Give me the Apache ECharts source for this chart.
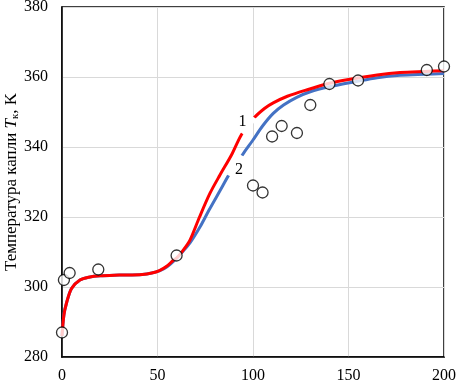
<!DOCTYPE html>
<html>
<head>
<meta charset="utf-8">
<script src="https://cdn.jsdelivr.net/npm/echarts@6/dist/echarts.min.js"></script>
<style>
  html, body { margin: 0; padding: 0; background: #fff; }
  #chart { width: 458px; height: 384px; }
</style>
</head>
<body>
<div id="chart"></div>
<script>
// curve 1 (red)
const curve1 = [
  [0, 286], [1, 292], [2.4, 295.5], [5, 299.6], [9.4, 302], [14, 302.8], [20, 303.2],
  [30, 303.4], [42, 303.6], [47, 304], [51, 304.7], [55, 306], [58, 307.5], [60, 308.3],
  [63, 310.2], [67, 313.4], [72, 320], [77.5, 326.8], [82.7, 332], [88.8, 337.8],
  [94, 343.6], [100, 348], [106, 351], [110.6, 352.6], [118, 354.5], [128, 356.3],
  [140, 358.2], [150, 359.3], [165, 360.6], [177, 361.3], [190, 361.6], [200, 361.8]
];
// curve 2 (blue)
const curve2 = [
  [0, 286], [1, 292], [2.4, 295.5], [5, 299.6], [9.4, 302], [14, 302.8], [20, 303.2],
  [30, 303.4], [42, 303.6], [47, 304], [51, 304.6], [55, 305.8], [60, 308.2],
  [63, 310], [67, 312.6], [72.3, 317.2], [77, 322], [82.7, 327.5], [88, 332.6],
  [95, 338.2], [100, 342], [105, 346], [110.6, 349.6], [116, 352], [122.9, 354.2],
  [130, 355.8], [140, 357.2], [154, 358.7], [165, 359.8], [177, 360.5], [190, 360.8], [200, 361]
];
// experiment
const points = [
  [0, 287], [1, 302], [4, 304], [19, 305], [60, 309], [100, 329], [105, 327],
  [110, 343], [115, 346], [123, 344], [130, 352], [140, 358], [155, 359], [191, 362], [200, 363]
];
const xTicks = { min: 0, max: 200, step: 50 };
const yTicks = { min: 280, max: 380, step: 20 };

const chart = echarts.init(document.getElementById('chart'));
const font = 'Liberation Serif';

function lineLabel(text, coord, rot, len, dx, dy) {
  return {
    coord: coord,
    symbol: 'rect',
    symbolSize: [len, 8],
    symbolRotate: rot,
    itemStyle: { color: '#fff' },
    label: {
      show: true, formatter: text, color: '#000', fontFamily: font, fontSize: 16,
      position: 'inside', offset: [dx, dy]
    }
  };
}

chart.setOption({
  animation: false,
  grid: {
    left: 62, top: 7, right: 14, bottom: 27, outerBoundsMode: 'none', containLabel: false,
    show: true, borderColor: '#000', borderWidth: 1.5, backgroundColor: 'transparent'
  },
  xAxis: {
    type: 'value', min: xTicks.min, max: xTicks.max, interval: xTicks.step,
    axisLine: { lineStyle: { color: '#000', width: 1.5 } },
    axisTick: { show: false },
    axisLabel: { color: '#000', fontFamily: font, fontSize: 16, margin: 11 },
    splitLine: { lineStyle: { color: '#d9d9d9', width: 1 } }
  },
  yAxis: {
    type: 'value', min: yTicks.min, max: yTicks.max, interval: yTicks.step,
    name: 'Температура капли {i|T}{s|к}, K',
    nameLocation: 'middle', nameGap: 41, nameMoveOverlap: false,
    nameTextStyle: {
      color: '#000', fontFamily: font, fontSize: 17,
      rich: {
        i: { fontStyle: 'italic', fontFamily: font, fontSize: 17, color: '#000' },
        s: { fontFamily: font, fontSize: 11, color: '#000', padding: [7, 0, 0, 0] }
      }
    },
    axisLine: { lineStyle: { color: '#000', width: 1.5 } },
    axisTick: { show: false },
    axisLabel: { color: '#000', fontFamily: font, fontSize: 16, margin: 14 },
    splitLine: { lineStyle: { color: '#d9d9d9', width: 1 } }
  },
  series: [
    {
      type: 'line', data: curve2, showSymbol: false, smooth: 0.3,
      lineStyle: { color: '#4472c4', width: 3 }, z: 2,
      markPoint: { z: 5, data: [lineLabel('2', [91.1, 334.6], 62, 24, 3, 4)] }
    },
    {
      type: 'line', data: curve1, showSymbol: false, smooth: 0.3,
      lineStyle: { color: '#ff0000', width: 3 }, z: 3,
      markPoint: { z: 5, data: [lineLabel('1', [97.1, 346.3], 55, 20, -5, -3)] }
    },
    {
      type: 'scatter', data: points, symbol: 'circle', symbolSize: 11, z: 10,
      itemStyle: { color: '#fff', borderColor: '#000', borderWidth: 1.3 }
    }
  ]
});
</script>
</body>
</html>
